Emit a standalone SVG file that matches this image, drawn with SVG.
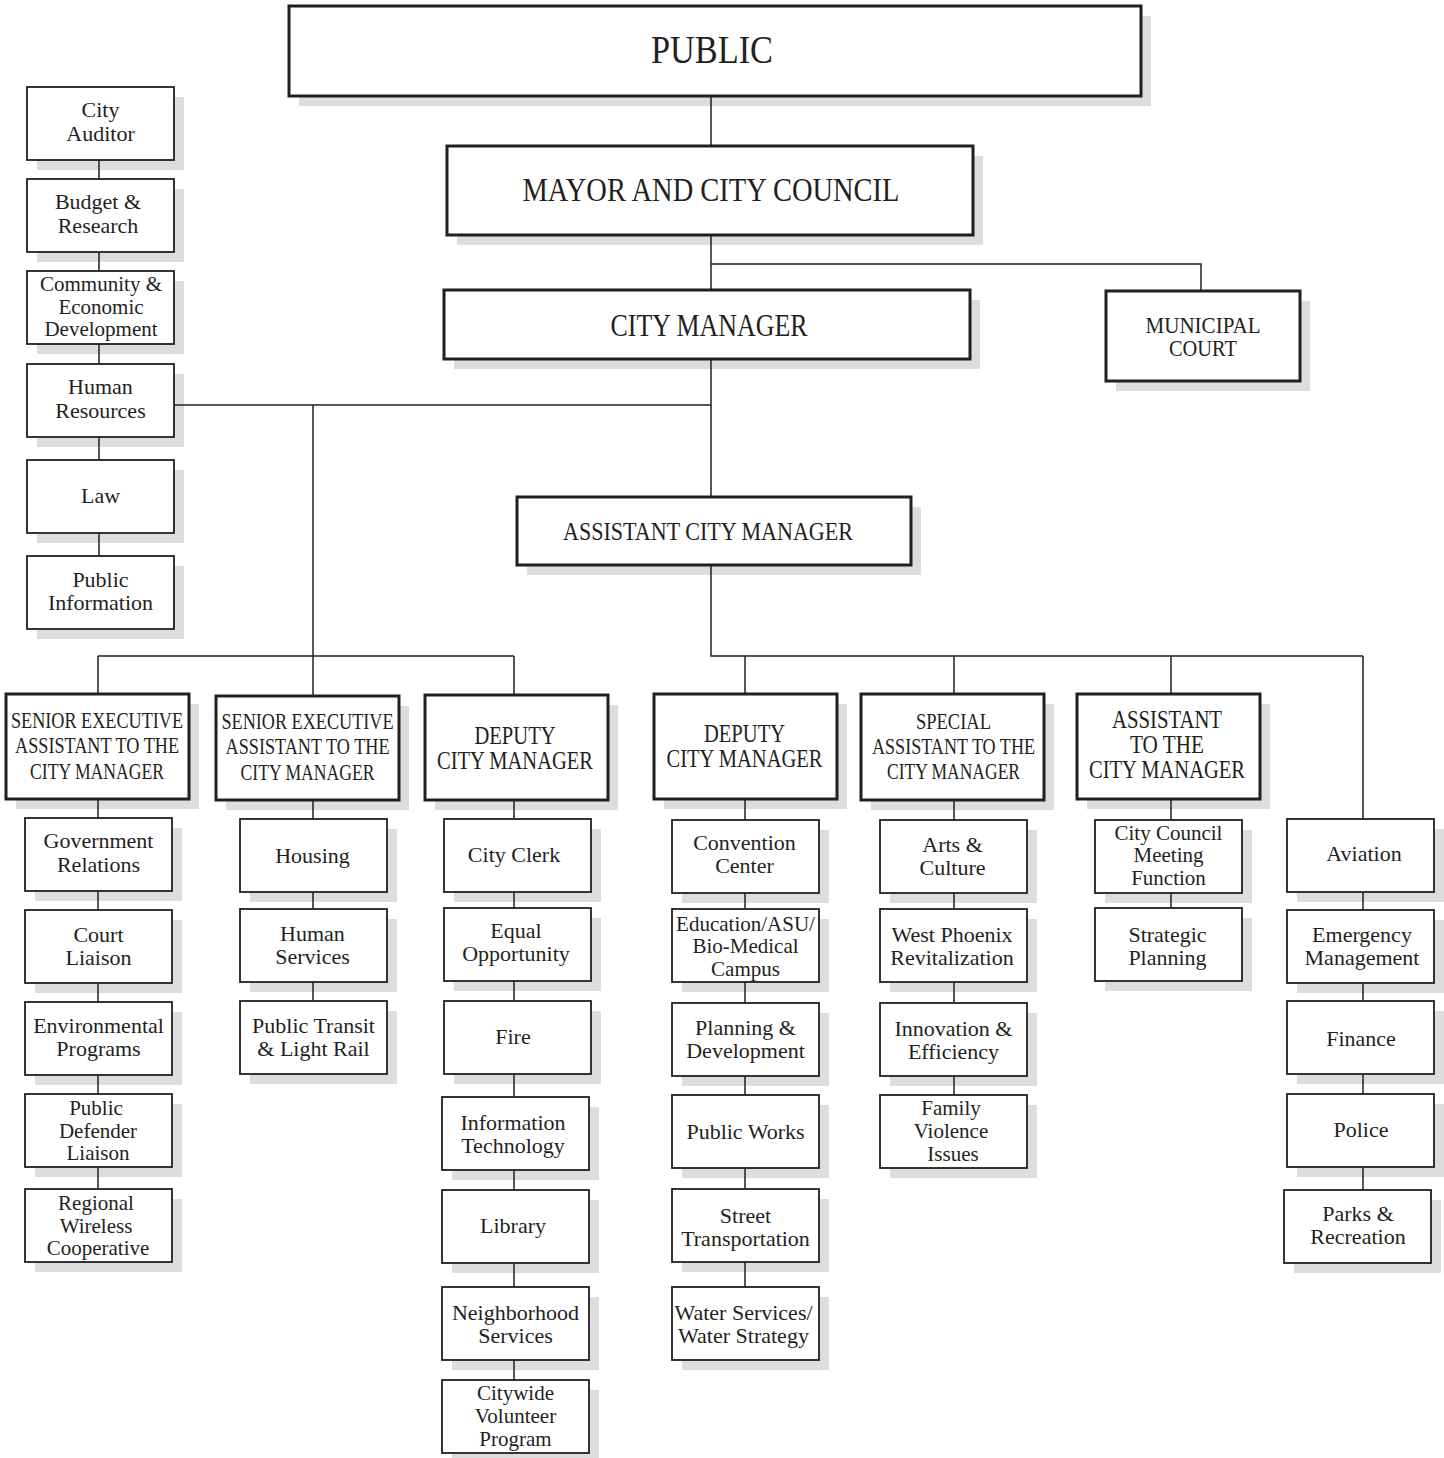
<svg xmlns="http://www.w3.org/2000/svg" width="1444" height="1458" viewBox="0 0 1444 1458">
<style>
.sh{fill:#dcdddf}
.bx{fill:#fff;stroke:#231f20;stroke-width:1.8}
.hb{fill:#fff;stroke:#231f20;stroke-width:3}
.t{font-family:"Liberation Serif","Times New Roman",serif;font-size:22px;fill:#231f20;text-anchor:middle}
.t3{font-size:21px}
.h{font-size:23px}
.h2{font-size:25px}
.cn{stroke:#231f20;stroke-width:1.5;fill:none}
</style>
<rect width="1444" height="1458" fill="#fff"/>

<g id="public"><rect class="sh" x="299" y="16" width="852" height="90"/><rect class="hb" x="289" y="6" width="852" height="90"/><text class="t" x="712" y="63" style="font-size:39px" textLength="122" lengthAdjust="spacingAndGlyphs">PUBLIC</text></g>
<g id="mayor"><rect class="sh" x="457" y="156" width="526" height="89"/><rect class="hb" x="447" y="146" width="526" height="89"/><text class="t" x="711" y="201" style="font-size:33px" textLength="377" lengthAdjust="spacingAndGlyphs">MAYOR AND CITY COUNCIL</text></g>
<g id="city-manager"><rect class="sh" x="454" y="300" width="526" height="69"/><rect class="hb" x="444" y="290" width="526" height="69"/><text class="t" x="709" y="336" style="font-size:32px" textLength="197" lengthAdjust="spacingAndGlyphs">CITY MANAGER</text></g>
<g id="municipal-court"><rect class="sh" x="1116" y="301" width="194" height="90"/><rect class="hb" x="1106" y="291" width="194" height="90"/><text class="t" x="1203" y="333" style="font-size:23px" textLength="115" lengthAdjust="spacingAndGlyphs">MUNICIPAL</text><text class="t" x="1203" y="356" style="font-size:23px" textLength="68" lengthAdjust="spacingAndGlyphs">COURT</text></g>
<g id="assistant-city-manager"><rect class="sh" x="527" y="507" width="394" height="68"/><rect class="hb" x="517" y="497" width="394" height="68"/><text class="t" x="708" y="540" style="font-size:26px" textLength="290" lengthAdjust="spacingAndGlyphs">ASSISTANT CITY MANAGER</text></g>

<!-- left column -->
<g id="city-auditor"><rect class="sh" x="37" y="97" width="147" height="73"/><rect class="bx" x="27" y="87" width="147" height="73"/><text class="t" x="100.5" y="117">City</text><text class="t" x="100.5" y="141">Auditor</text></g>
<g id="budget-research"><rect class="sh" x="37" y="189" width="147" height="73"/><rect class="bx" x="27" y="179" width="147" height="73"/><text class="t" x="98" y="209">Budget &amp;</text><text class="t" x="98" y="233">Research</text></g>
<g id="community-econ-dev"><rect class="sh" x="37" y="281" width="147" height="73"/><rect class="bx" x="27" y="271" width="147" height="73"/><text class="t t3" x="101" y="291">Community &amp;</text><text class="t t3" x="101" y="314">Economic</text><text class="t t3" x="101" y="336">Development</text></g>
<g id="human-resources"><rect class="sh" x="37" y="374" width="147" height="73"/><rect class="bx" x="27" y="364" width="147" height="73"/><text class="t" x="100.5" y="394">Human</text><text class="t" x="100.5" y="418">Resources</text></g>
<g id="law"><rect class="sh" x="37" y="470" width="147" height="73"/><rect class="bx" x="27" y="460" width="147" height="73"/><text class="t" x="100.5" y="503">Law</text></g>
<g id="public-information"><rect class="sh" x="37" y="566" width="147" height="73"/><rect class="bx" x="27" y="556" width="147" height="73"/><text class="t" x="100.5" y="587">Public</text><text class="t" x="100.5" y="610">Information</text></g>

<!-- heading boxes -->
<g id="senior-exec-1"><rect class="sh" x="16" y="704" width="183" height="105"/><rect class="hb" x="6" y="694" width="183" height="105"/>
<text class="t h" x="97" y="728" textLength="172" lengthAdjust="spacingAndGlyphs">SENIOR EXECUTIVE</text><text class="t h" x="97" y="753" textLength="164" lengthAdjust="spacingAndGlyphs">ASSISTANT TO THE</text><text class="t h" x="97" y="779" textLength="134" lengthAdjust="spacingAndGlyphs">CITY MANAGER</text></g>
<g id="senior-exec-2"><rect class="sh" x="226" y="706" width="183" height="104"/><rect class="hb" x="216" y="696" width="183" height="104"/>
<text class="t h" x="307.5" y="729" textLength="172" lengthAdjust="spacingAndGlyphs">SENIOR EXECUTIVE</text><text class="t h" x="307.5" y="754" textLength="164" lengthAdjust="spacingAndGlyphs">ASSISTANT TO THE</text><text class="t h" x="307.5" y="780" textLength="134" lengthAdjust="spacingAndGlyphs">CITY MANAGER</text></g>
<g id="deputy-1"><rect class="sh" x="435" y="705" width="183" height="105"/><rect class="hb" x="425" y="695" width="183" height="105"/>
<text class="t h2" x="515" y="744" textLength="81" lengthAdjust="spacingAndGlyphs">DEPUTY</text><text class="t h2" x="515" y="769" textLength="156" lengthAdjust="spacingAndGlyphs">CITY MANAGER</text></g>
<g id="deputy-2"><rect class="sh" x="664" y="704" width="183" height="105"/><rect class="hb" x="654" y="694" width="183" height="105"/>
<text class="t h2" x="744.5" y="742" textLength="81" lengthAdjust="spacingAndGlyphs">DEPUTY</text><text class="t h2" x="744.5" y="767" textLength="156" lengthAdjust="spacingAndGlyphs">CITY MANAGER</text></g>
<g id="special-assistant"><rect class="sh" x="871" y="704" width="183" height="106"/><rect class="hb" x="861" y="694" width="183" height="106"/>
<text class="t h" x="953.5" y="729" textLength="75" lengthAdjust="spacingAndGlyphs">SPECIAL</text><text class="t h" x="953.5" y="754" textLength="163" lengthAdjust="spacingAndGlyphs">ASSISTANT TO THE</text><text class="t h" x="953.5" y="779" textLength="133" lengthAdjust="spacingAndGlyphs">CITY MANAGER</text></g>
<g id="assistant-to-cm"><rect class="sh" x="1087" y="704" width="183" height="105"/><rect class="hb" x="1077" y="694" width="183" height="105"/>
<text class="t h2" x="1167" y="728" textLength="110" lengthAdjust="spacingAndGlyphs">ASSISTANT</text><text class="t h2" x="1167" y="753" textLength="74" lengthAdjust="spacingAndGlyphs">TO THE</text><text class="t h2" x="1167" y="778" textLength="156" lengthAdjust="spacingAndGlyphs">CITY MANAGER</text></g>

<!-- column 1 -->
<g id="government-relations"><rect class="sh" x="35" y="828" width="147" height="73"/><rect class="bx" x="25" y="818" width="147" height="73"/><text class="t" x="98.5" y="848">Government</text><text class="t" x="98.5" y="872">Relations</text></g>
<g id="court-liaison"><rect class="sh" x="35" y="920" width="147" height="73"/><rect class="bx" x="25" y="910" width="147" height="73"/><text class="t" x="98.5" y="942">Court</text><text class="t" x="98.5" y="965">Liaison</text></g>
<g id="environmental-programs"><rect class="sh" x="35" y="1012" width="147" height="73"/><rect class="bx" x="25" y="1002" width="147" height="73"/><text class="t" x="98.5" y="1033">Environmental</text><text class="t" x="98.5" y="1056">Programs</text></g>
<g id="public-defender-liaison"><rect class="sh" x="35" y="1104" width="147" height="73"/><rect class="bx" x="25" y="1094" width="147" height="73"/><text class="t t3" x="96" y="1115">Public</text><text class="t t3" x="98" y="1138">Defender</text><text class="t t3" x="98" y="1160">Liaison</text></g>
<g id="regional-wireless"><rect class="sh" x="35" y="1199" width="147" height="73"/><rect class="bx" x="25" y="1189" width="147" height="73"/><text class="t t3" x="96" y="1210">Regional</text><text class="t t3" x="96" y="1233">Wireless</text><text class="t t3" x="98" y="1255">Cooperative</text></g>

<!-- column 2 -->
<g id="housing"><rect class="sh" x="250" y="829" width="147" height="73"/><rect class="bx" x="240" y="819" width="147" height="73"/><text class="t" x="312.5" y="863">Housing</text></g>
<g id="human-services"><rect class="sh" x="250" y="919" width="147" height="73"/><rect class="bx" x="240" y="909" width="147" height="73"/><text class="t" x="312.5" y="941">Human</text><text class="t" x="312.5" y="964">Services</text></g>
<g id="public-transit"><rect class="sh" x="250" y="1011" width="147" height="73"/><rect class="bx" x="240" y="1001" width="147" height="73"/><text class="t" x="313.5" y="1033">Public Transit</text><text class="t" x="313.5" y="1056">&amp; Light Rail</text></g>

<!-- column 3 -->
<g id="city-clerk"><rect class="sh" x="454" y="829" width="147" height="73"/><rect class="bx" x="444" y="819" width="147" height="73"/><text class="t" x="514" y="862">City Clerk</text></g>
<g id="equal-opportunity"><rect class="sh" x="454" y="918" width="147" height="73"/><rect class="bx" x="444" y="908" width="147" height="73"/><text class="t" x="516" y="938">Equal</text><text class="t" x="516" y="961">Opportunity</text></g>
<g id="fire"><rect class="sh" x="454" y="1011" width="147" height="73"/><rect class="bx" x="444" y="1001" width="147" height="73"/><text class="t" x="513" y="1044">Fire</text></g>
<g id="information-technology"><rect class="sh" x="452" y="1107" width="147" height="73"/><rect class="bx" x="442" y="1097" width="147" height="73"/><text class="t" x="513" y="1130">Information</text><text class="t" x="513" y="1153">Technology</text></g>
<g id="library"><rect class="sh" x="452" y="1200" width="147" height="73"/><rect class="bx" x="442" y="1190" width="147" height="73"/><text class="t" x="513" y="1233">Library</text></g>
<g id="neighborhood-services"><rect class="sh" x="452" y="1297" width="147" height="73"/><rect class="bx" x="442" y="1287" width="147" height="73"/><text class="t" x="515.5" y="1320">Neighborhood</text><text class="t" x="515.5" y="1343">Services</text></g>
<g id="citywide-volunteer"><rect class="sh" x="452" y="1390" width="147" height="73"/><rect class="bx" x="442" y="1380" width="147" height="73"/><text class="t t3" x="515.5" y="1400">Citywide</text><text class="t t3" x="515.5" y="1423">Volunteer</text><text class="t t3" x="515.5" y="1446">Program</text></g>

<!-- column 4 -->
<g id="convention-center"><rect class="sh" x="682" y="830" width="147" height="73"/><rect class="bx" x="672" y="820" width="147" height="73"/><text class="t" x="744.5" y="850">Convention</text><text class="t" x="744.5" y="873">Center</text></g>
<g id="education-asu"><rect class="sh" x="682" y="919" width="147" height="73"/><rect class="bx" x="672" y="909" width="147" height="73"/><text class="t t3" x="745.5" y="931">Education/ASU/</text><text class="t t3" x="745.5" y="953">Bio-Medical</text><text class="t t3" x="745.5" y="976">Campus</text></g>
<g id="planning-development"><rect class="sh" x="682" y="1013" width="147" height="73"/><rect class="bx" x="672" y="1003" width="147" height="73"/><text class="t" x="745.5" y="1035">Planning &amp;</text><text class="t" x="745.5" y="1058">Development</text></g>
<g id="public-works"><rect class="sh" x="682" y="1105" width="147" height="73"/><rect class="bx" x="672" y="1095" width="147" height="73"/><text class="t" x="745.5" y="1139">Public Works</text></g>
<g id="street-transportation"><rect class="sh" x="682" y="1199" width="147" height="73"/><rect class="bx" x="672" y="1189" width="147" height="73"/><text class="t" x="745.5" y="1223">Street</text><text class="t" x="745.5" y="1246">Transportation</text></g>
<g id="water-services"><rect class="sh" x="682" y="1297" width="147" height="73"/><rect class="bx" x="672" y="1287" width="147" height="73"/><text class="t" x="743.5" y="1320">Water Services/</text><text class="t" x="743.5" y="1343">Water Strategy</text></g>

<!-- column 5 -->
<g id="arts-culture"><rect class="sh" x="890" y="830" width="147" height="73"/><rect class="bx" x="880" y="820" width="147" height="73"/><text class="t" x="952.5" y="852">Arts &amp;</text><text class="t" x="952.5" y="875">Culture</text></g>
<g id="west-phoenix"><rect class="sh" x="890" y="919" width="147" height="73"/><rect class="bx" x="880" y="909" width="147" height="73"/><text class="t" x="952" y="942">West Phoenix</text><text class="t" x="952" y="965">Revitalization</text></g>
<g id="innovation-efficiency"><rect class="sh" x="890" y="1013" width="147" height="73"/><rect class="bx" x="880" y="1003" width="147" height="73"/><text class="t" x="953.5" y="1036">Innovation &amp;</text><text class="t" x="953.5" y="1059">Efficiency</text></g>
<g id="family-violence"><rect class="sh" x="890" y="1105" width="147" height="73"/><rect class="bx" x="880" y="1095" width="147" height="73"/><text class="t t3" x="951" y="1115">Family</text><text class="t t3" x="951" y="1138">Violence</text><text class="t t3" x="953" y="1161">Issues</text></g>

<!-- column 6 -->
<g id="city-council-meeting"><rect class="sh" x="1105" y="830" width="147" height="73"/><rect class="bx" x="1095" y="820" width="147" height="73"/><text class="t t3" x="1168.5" y="840">City Council</text><text class="t t3" x="1168.5" y="862">Meeting</text><text class="t t3" x="1168.5" y="885">Function</text></g>
<g id="strategic-planning"><rect class="sh" x="1105" y="918" width="147" height="73"/><rect class="bx" x="1095" y="908" width="147" height="73"/><text class="t" x="1167.5" y="942">Strategic</text><text class="t" x="1167.5" y="965">Planning</text></g>

<!-- column 7 -->
<g id="aviation"><rect class="sh" x="1297" y="829" width="147" height="73"/><rect class="bx" x="1287" y="819" width="147" height="73"/><text class="t" x="1364" y="861">Aviation</text></g>
<g id="emergency-management"><rect class="sh" x="1297" y="920" width="147" height="73"/><rect class="bx" x="1287" y="910" width="147" height="73"/><text class="t" x="1362" y="942">Emergency</text><text class="t" x="1362" y="965">Management</text></g>
<g id="finance"><rect class="sh" x="1297" y="1011" width="147" height="73"/><rect class="bx" x="1287" y="1001" width="147" height="73"/><text class="t" x="1361" y="1046">Finance</text></g>
<g id="police"><rect class="sh" x="1297" y="1104" width="147" height="73"/><rect class="bx" x="1287" y="1094" width="147" height="73"/><text class="t" x="1361" y="1137">Police</text></g>
<g id="parks-recreation"><rect class="sh" x="1294" y="1200" width="147" height="73"/><rect class="bx" x="1284" y="1190" width="147" height="73"/><text class="t" x="1358" y="1221">Parks &amp;</text><text class="t" x="1358" y="1244">Recreation</text></g>

<g id="connectors" class="cn">
<path d="M711 96V146M711 235V290M711 264H1201V291M711 359V497M174 405H711M313 405V696M98 656H514M98 656V694M514 656V695M711 565V656H1363M745 656V694M954 656V694M1171 656V694M1363 656V819"/>
<path d="M99 160V179M99 252V271M99 344V364M99 437V460M99 533V556"/>
<path d="M98 799V818M98 891V910M98 983V1002M98 1075V1094M98 1167V1189"/>
<path d="M313 800V819M313 892V909M313 982V1001"/>
<path d="M514 800V819M514 892V908M514 981V1001M514 1074V1097M514 1170V1190M514 1263V1287M514 1360V1380"/>
<path d="M745 799V820M745 893V909M745 982V1003M745 1076V1095M745 1168V1189M745 1262V1287"/>
<path d="M954 800V820M954 893V909M954 982V1003M954 1076V1095"/>
<path d="M1171 799V820M1171 893V908"/>
<path d="M1363 892V910M1363 983V1001M1363 1074V1094M1363 1167V1190"/>
</g>
</svg>
